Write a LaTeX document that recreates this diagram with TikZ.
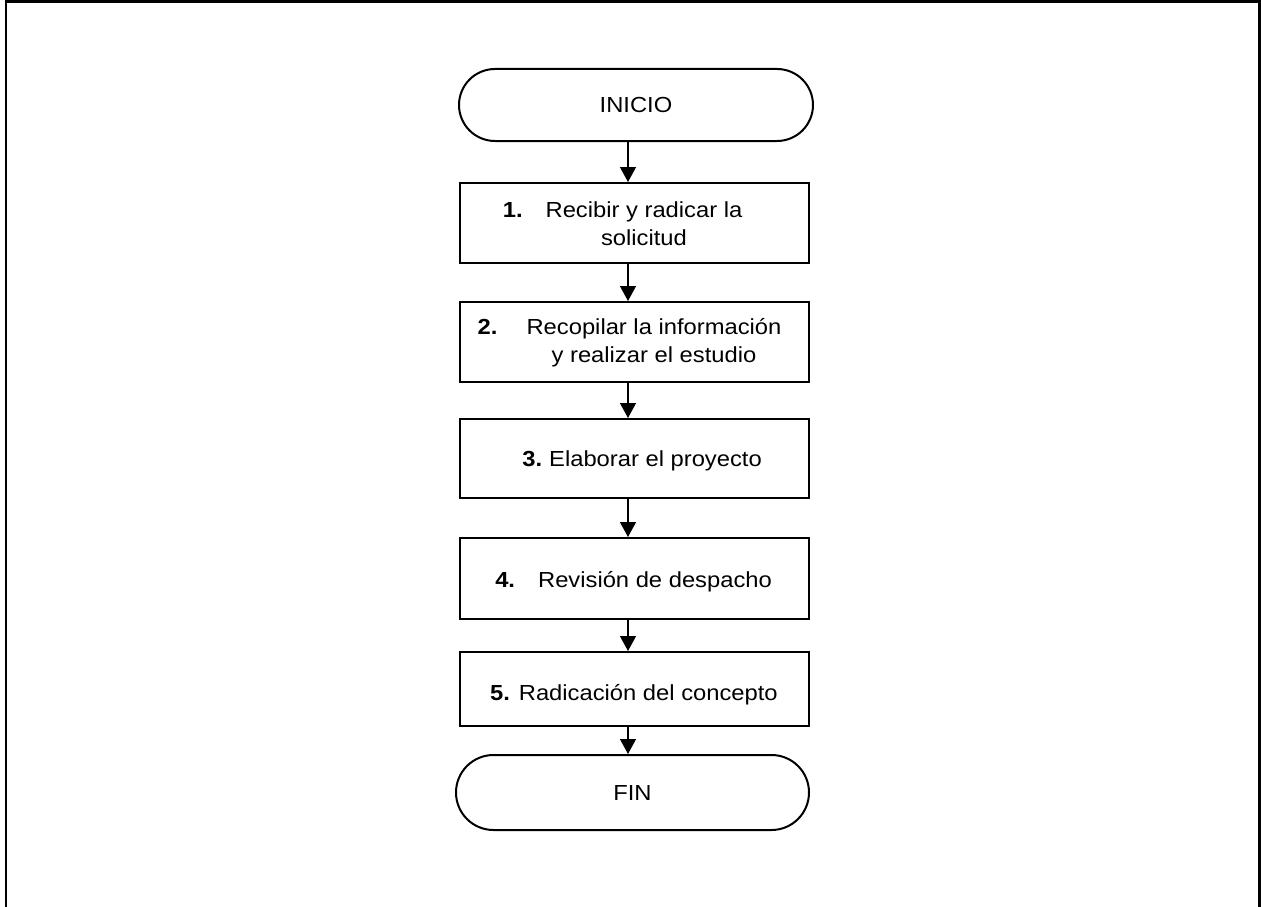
\documentclass[tikz,border=0pt]{standalone}
\usepackage{fontspec}
\setmainfont{Liberation Sans}[FakeStretch = 1.09]
\usetikzlibrary{arrows.meta,shapes.misc}

\begin{document}
\begin{tikzpicture}[
  x = 1pt, y = -1pt,
  every node/.style = {font = \fontsize{21.8}{28}\selectfont},
  stepbox/.style = {draw, line width = 2pt, minimum width = 349pt, inner sep = 0pt},
  term/.style = {draw, rounded rectangle, line width = 2pt, inner sep = 0pt},
  lbl/.style = {align = center, inner sep = 0pt},
  flow/.style = {line width = 1.3pt, -{Triangle[width = 16pt, length = 15pt]}},
  ]
  \useasboundingbox (0,0) rectangle (1261,907);
  \draw[line width = 2.5pt] (6,907) -- (6,1.3) -- (1259.5,1.3) -- (1259.5,907);

  \node[term, minimum width = 354pt, minimum height = 72pt] (inicio) at (636,105) {INICIO};
  \node[stepbox, minimum height = 80pt] (s1) at (634.5,223) {};
  \node[stepbox, minimum height = 80pt] (s2) at (634.5,342) {};
  \node[stepbox, minimum height = 79pt] (s3) at (634.5,458.5) {};
  \node[stepbox, minimum height = 81pt] (s4) at (634.5,578.5) {};
  \node[stepbox, minimum height = 74pt] (s5) at (634.5,689) {};
  \node[term, minimum width = 353pt, minimum height = 75pt] (fin) at (632.5,792.5) {FIN};

  \node[lbl] (l1) at (644,224.2) {\llap{\textbf{1.}\hspace{23pt}}Recibir y radicar la\\solicitud};
  \node[lbl] (l2) at (654,342.3) {\llap{\textbf{2.}\hspace{29pt}}Recopilar la información\\y realizar el estudio};
  \node[lbl] (l3) at (655.5,461) {\llap{\textbf{3.}\hspace{7pt}}Elaborar el proyecto};
  \node[lbl] (l4) at (655,582) {\llap{\textbf{4.}\hspace{23pt}}Revisión de despacho};
  \node[lbl] (l5) at (634,694.3) {\textbf{5.} Radicación del concepto};

  \coordinate (ax) at (628,0);
  \foreach \a/\b in {inicio/s1, s1/s2, s2/s3, s3/s4, s4/s5, s5/fin}
    \draw[flow] (\a.south -| ax) -- (\b.north -| ax);
\end{tikzpicture}
\end{document}
